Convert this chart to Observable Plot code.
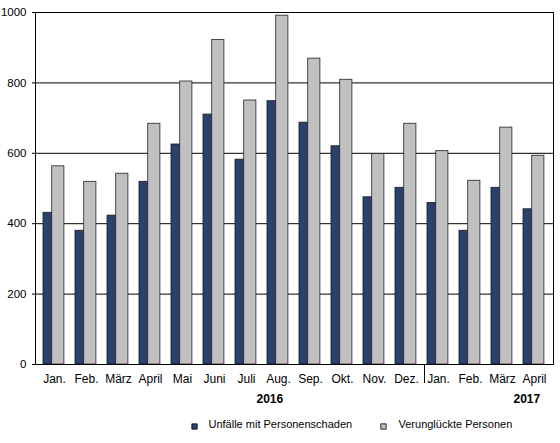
<!DOCTYPE html>
<html>
<head>
<meta charset="utf-8">
<script src="https://cdn.jsdelivr.net/npm/d3@7"></script>
<script src="https://cdn.jsdelivr.net/npm/@observablehq/plot@0.6"></script>
<style>
  html, body { margin: 0; padding: 0; background: #fff; }
</style>
</head>
<body>
<div id="chart"></div>
<script>
const months = ["2016-01","2016-02","2016-03","2016-04","2016-05","2016-06","2016-07","2016-08","2016-09","2016-10","2016-11","2016-12","2017-01","2017-02","2017-03","2017-04"];
const monthLabels = ["Jan.","Feb.","März","April","Mai","Juni","Juli","Aug.","Sep.","Okt.","Nov.","Dez.","Jan.","Feb.","März","April"];
const unfaelle = [431, 380, 423, 519, 625, 710, 582, 748, 687, 620, 475, 502, 459, 380, 502, 441];
const verunglueckte = [563, 519, 542, 684, 804, 922, 750, 991, 869, 809, 598, 684, 606, 522, 673, 593];
const yTicks = [0, 200, 400, 600, 800, 1000];
const seriesNames = ["Unfälle mit Personenschaden", "Verunglückte Personen"];
const years = ["2016", "2017"];

const blue = "#2c416e";
const gray = "#c0c0c0";

const dataU = months.map((m, i) => ({month: m, value: unfaelle[i]}));
const dataV = months.map((m, i) => ({month: m, value: verunglueckte[i]}));
const labelOf = new Map(months.map((m, i) => [m, monthLabels[i]]));

const chart = Plot.plot({
  width: 560,
  height: 443,
  marginTop: 12,
  marginBottom: 79,
  marginLeft: 35,
  marginRight: 7,
  style: {fontFamily: "'Liberation Sans', Arial, sans-serif", fontSize: "12px", color: "#000", background: "#fff"},
  x: {type: "band", domain: months, padding: 0, tickSize: 0, tickPadding: 10, tickFormat: d => labelOf.get(d), label: null},
  y: {domain: [0, 1000], ticks: yTicks, tickSize: 3, tickPadding: 6, tickFormat: d => String(d), label: null},
  marks: [
    Plot.ruleY(yTicks.slice(1, -1), {stroke: "#000", strokeWidth: 1}),
    Plot.barY(dataU, {x: "month", y: "value", fill: blue, stroke: "#1a1a1a", strokeWidth: 0.8, insetLeft: 5, insetRight: 18}),
    Plot.barY(dataV, {x: "month", y: "value", fill: gray, stroke: "#222", strokeWidth: 0.8, insetLeft: 13.7, insetRight: 6.1}),
    Plot.frame({stroke: "#000", strokeWidth: 1}),
    Plot.ruleX(["2017-01"], {x: d => d, y1: 0, y2: 0, dx: -14, insetBottom: -19, stroke: "#000", strokeWidth: 1}),
    Plot.text([years[0]], {frameAnchor: "bottom-left", text: d => d, dx: 221, dy: 38, fontWeight: "bold", fontSize: 12}),
    Plot.text([years[1]], {frameAnchor: "bottom-left", text: d => d, dx: 478, dy: 38, fontWeight: "bold", fontSize: 12}),
    Plot.dot([seriesNames[0]], {frameAnchor: "bottom-left", dx: 159, dy: 62, symbol: "square", r: 3, fill: blue, stroke: "#000", strokeWidth: 0.8}),
    Plot.text([seriesNames[0]], {frameAnchor: "bottom-left", text: d => d, dx: 173, dy: 63, textAnchor: "start", fontSize: 11}),
    Plot.dot([seriesNames[1]], {frameAnchor: "bottom-left", dx: 348, dy: 62, symbol: "square", r: 3, fill: gray, stroke: "#000", strokeWidth: 0.8}),
    Plot.text([seriesNames[1]], {frameAnchor: "bottom-left", text: d => d, dx: 363, dy: 63, textAnchor: "start", fontSize: 11})
  ]
});
chart.querySelectorAll('[aria-label="y-axis tick label"] text').forEach(t => t.setAttribute("font-size", "11.5"));
document.getElementById("chart").appendChild(chart);
</script>
</body>
</html>
